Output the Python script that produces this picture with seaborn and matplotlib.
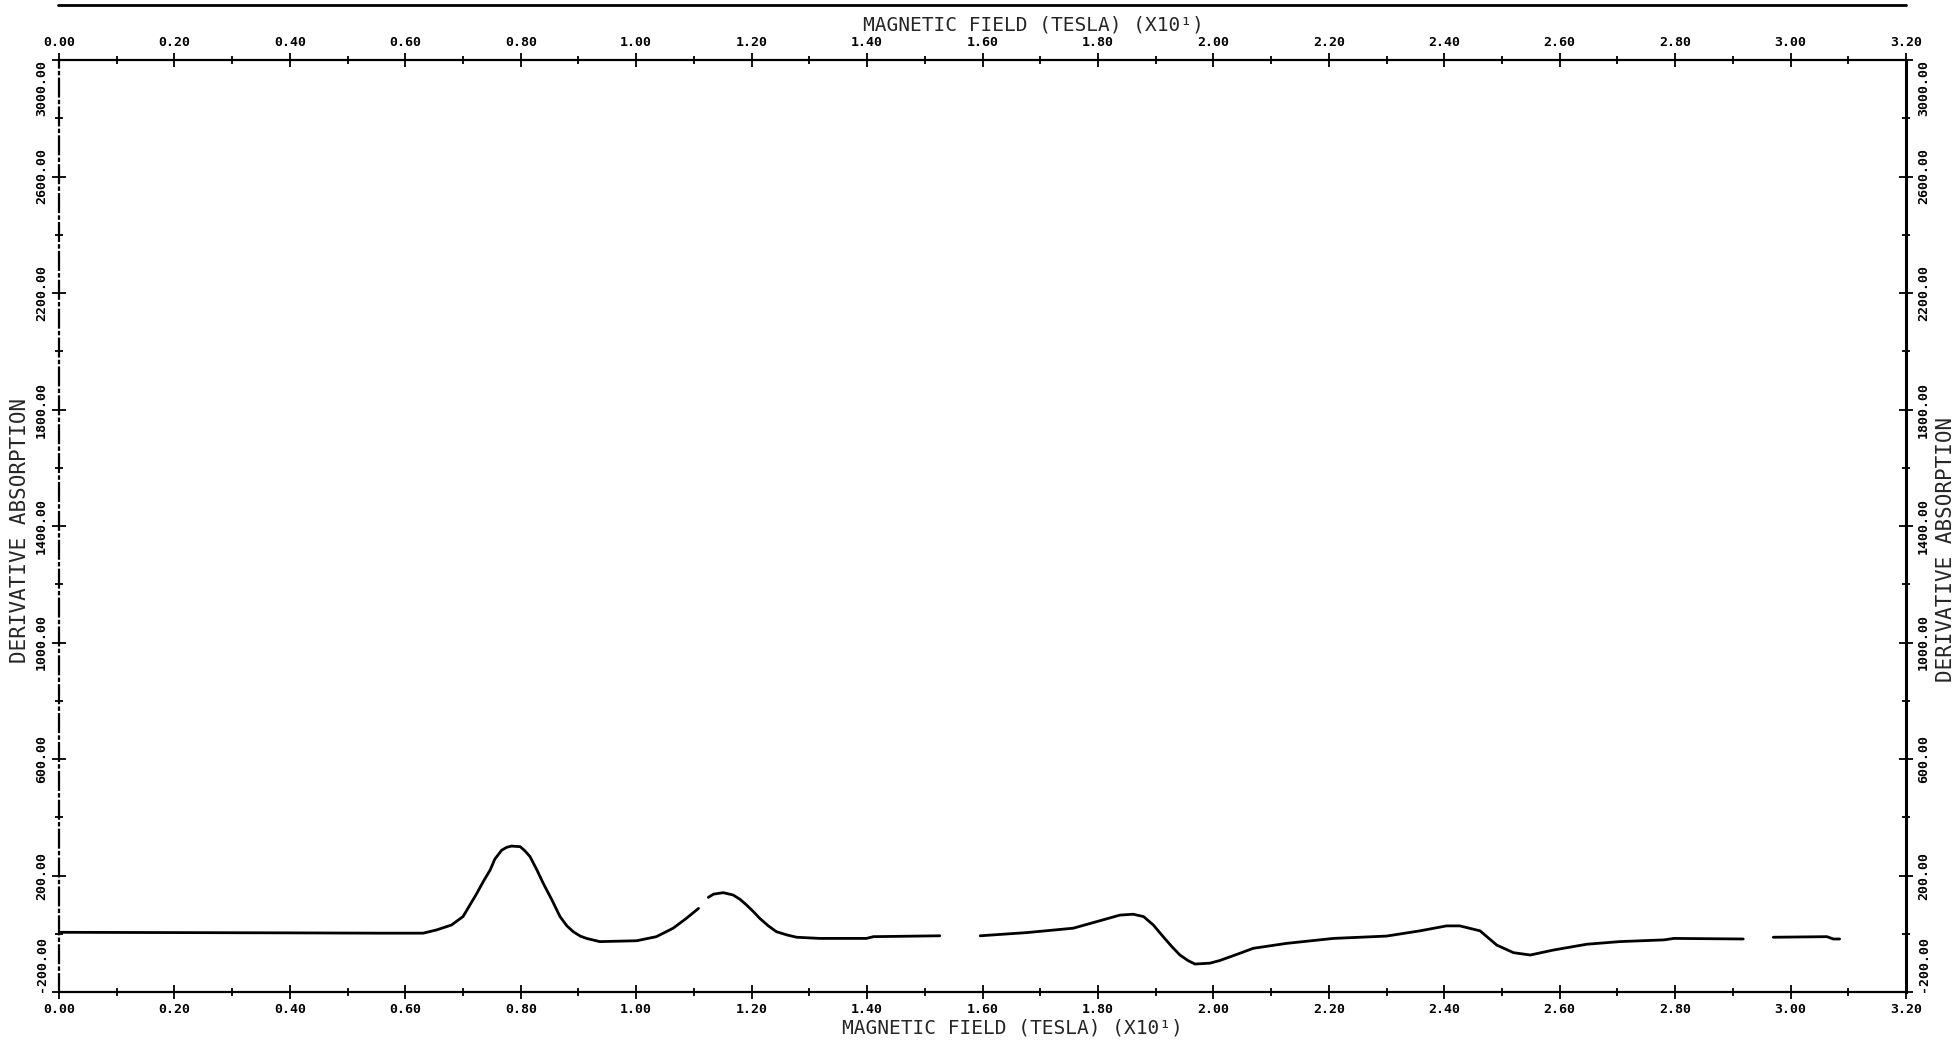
import pandas as pd
import numpy as np
import matplotlib
matplotlib.use("Agg")
import matplotlib.pyplot as plt
from matplotlib.lines import Line2D
from matplotlib.ticker import FormatStrFormatter, MultipleLocator
import seaborn as sns

# trace, split where the pen lifted
seg1_x = [0.00, 0.20, 0.40, 0.556, 0.631, 0.654, 0.680, 0.700, 0.712, 0.724, 0.735, 0.747,
          0.755, 0.767, 0.776, 0.784, 0.799, 0.807, 0.816, 0.828, 0.839, 0.854, 0.868, 0.880,
          0.891, 0.903, 0.914, 0.937, 1.001, 1.035, 1.064, 1.087, 1.108]
seg1_y = [5, 4, 3, 2, 2, 13, 30, 59, 99, 139, 179, 219,
          256, 287, 297, 301, 299, 285, 265, 219, 173, 116, 59, 27,
          7, -8, -16, -27, -24, -10, 19, 53, 87]

seg2_x = [1.125, 1.134, 1.151, 1.168, 1.180, 1.191, 1.203, 1.214, 1.229, 1.243, 1.261, 1.278,
          1.318, 1.399, 1.411, 1.526]
seg2_y = [125, 136, 141, 133, 118, 99, 76, 53, 27, 7, -4, -12,
          -16, -16, -10, -7]

seg3_x = [1.596, 1.677, 1.757, 1.804, 1.838, 1.861, 1.879, 1.896, 1.913, 1.928, 1.942, 1.956,
          1.968, 1.994, 2.011, 2.046, 2.069, 2.127, 2.208, 2.300, 2.358, 2.404, 2.427, 2.462,
          2.491, 2.520, 2.549, 2.589, 2.647, 2.704, 2.781, 2.798, 2.918]
seg3_y = [-7, 4, 19, 45, 64, 67, 59, 30, -10, -44, -73, -92,
          -104, -101, -92, -67, -50, -33, -16, -8, 10, 27, 27, 10,
          -39, -65, -73, -56, -36, -27, -21, -16, -18]

seg4_x = [2.970, 3.063, 3.074, 3.085]
seg4_y = [-12, -10, -18, -18]

x_ticks = [0.0, 0.2, 0.4, 0.6, 0.8, 1.0, 1.2, 1.4, 1.6, 1.8, 2.0, 2.2, 2.4, 2.6, 2.8, 3.0, 3.2]
y_ticks = [-200, 200, 600, 1000, 1400, 1800, 2200, 2600, 3000]

x_label = "MAGNETIC FIELD (TESLA) (X10¹)"
y_label = "DERIVATIVE ABSORPTION"

frames = []
for i, (xs, ys) in enumerate([(seg1_x, seg1_y), (seg2_x, seg2_y), (seg3_x, seg3_y), (seg4_x, seg4_y)]):
    frames.append(pd.DataFrame({"field": xs, "absorb": ys, "seg": i}))
df = pd.concat(frames, ignore_index=True)

sns.set_style("white")
plt.rcParams["font.family"] = ["DejaVu Sans Mono", "DejaVu Sans"]

fig = plt.figure(figsize=(19.57, 10.44), dpi=100)
ax = fig.add_axes([59 / 1957, 52 / 1044, 1847 / 1957, 932 / 1044])

sns.lineplot(data=df, x="field", y="absorb", units="seg", estimator=None, sort=False,
             color="black", lw=2.0, ax=ax, legend=False)

ax.set_xlim(0, 3.2)
ax.set_ylim(-200, 3000)
ax.set_xticks(x_ticks)
ax.set_yticks(y_ticks)
ax.xaxis.set_minor_locator(MultipleLocator(0.1))
ax.yaxis.set_minor_locator(MultipleLocator(200))
ax.xaxis.set_major_formatter(FormatStrFormatter("%.2f"))
ax.yaxis.set_major_formatter(FormatStrFormatter("%.2f"))

ax.tick_params(which="both", direction="inout", top=True, right=True, bottom=True, left=True,
               labeltop=True, labelright=True, colors="black", width=1.3)
ax.tick_params(which="major", length=10, labelsize=9.5, pad=3)
ax.tick_params(which="minor", length=6)
for lab in ax.get_yticklabels() + ax.get_xticklabels():
    lab.set_fontweight("bold")
for lab in ax.get_yticklabels():
    lab.set_rotation(90)
    lab.set_va("center")

# end labels kept inside the frame so they do not run into the x labels
yt = ax.yaxis.get_major_ticks()
for lab in (yt[0].label1, yt[0].label2):
    lab.set_va("bottom")
for lab in (yt[-1].label1, yt[-1].label2):
    lab.set_va("top")

for name, sp in ax.spines.items():
    sp.set_color("black")
    sp.set_linewidth(1.6)
ax.spines["left"].set_linestyle((0, (8, 2, 1, 2)))
ax.spines["right"].set_linewidth(2.2)

ax.set_xlabel("")
ax.set_ylabel("")

fig.text(1012 / 1957, 1 - 1028 / 1044, x_label, ha="center", va="center", fontsize=14)
fig.text(1033 / 1957, 1 - 25 / 1044, x_label, ha="center", va="center", fontsize=14)
fig.text(20 / 1957, 1 - 530 / 1044, y_label, ha="center", va="center", rotation=90, fontsize=15)
fig.text(1946 / 1957, 1 - 549 / 1044, y_label, ha="center", va="center", rotation=90, fontsize=15)

# rule line along the top edge of the scanned page
fig.add_artist(Line2D([58 / 1957, 1906 / 1957], [1 - 5 / 1044, 1 - 5 / 1044],
                      color="black", lw=2, transform=fig.transFigure))

fig.savefig("out.png", dpi=100, facecolor="white")
